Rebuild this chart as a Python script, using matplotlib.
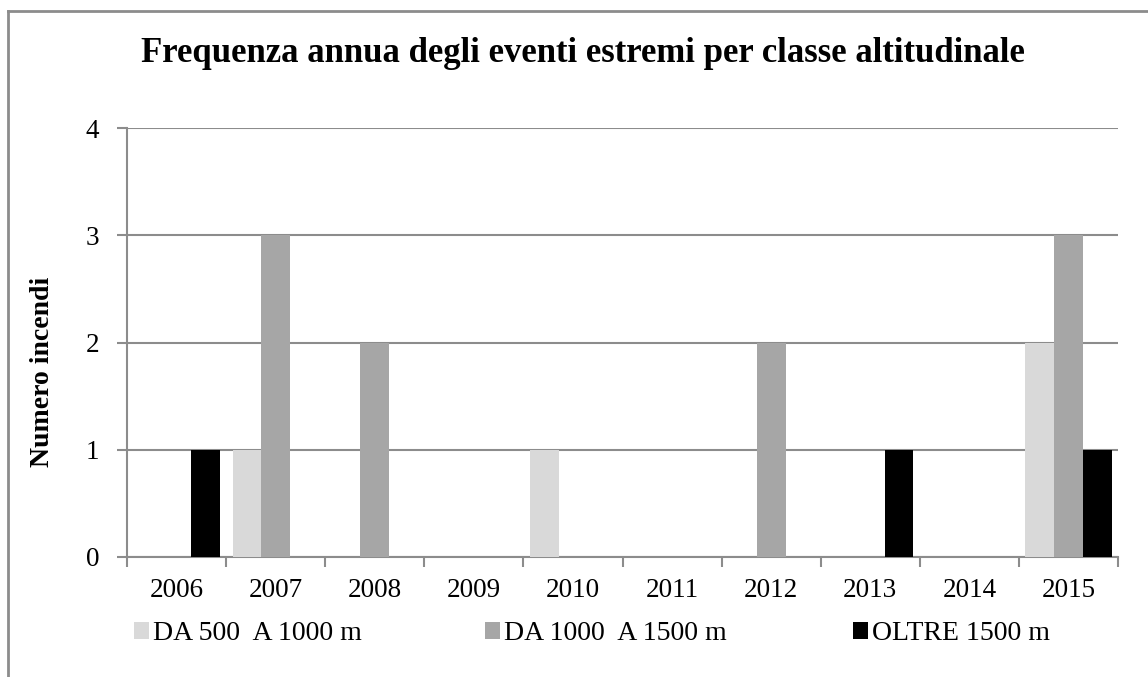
import numpy as np
import matplotlib.pyplot as plt
from matplotlib.patches import Patch
from matplotlib.lines import Line2D

years = ['2006', '2007', '2008', '2009', '2010', '2011', '2012', '2013', '2014', '2015']
da500 = [0, 1, 0, 0, 1, 0, 0, 0, 0, 2]
da1000 = [0, 3, 2, 0, 0, 0, 2, 0, 0, 3]
oltre1500 = [1, 0, 0, 0, 0, 0, 0, 1, 0, 1]
labels = ['DA 500  A 1000 m', 'DA 1000  A 1500 m', 'OLTRE 1500 m']
colors = ['#d9d9d9', '#a6a6a6', '#000000']

plt.rcParams['font.family'] = ['Liberation Serif', 'DejaVu Serif']
grid_col = '#8c8c8c'

W, H = 1148, 677
fig = plt.figure(figsize=(W / 100, H / 100), dpi=100)
ax = fig.add_axes([127/W, 1 - 557/H, (1118-127)/W, (557-128)/H])

x = np.arange(len(years))
w = 0.29
for i, (vals, c) in enumerate(zip([da500, da1000, oltre1500], colors)):
    ax.bar(x + (i - 1) * w, vals, w, color=c, zorder=3, linewidth=0)

ax.set_xlim(-0.5, len(years) - 0.5)
ax.set_ylim(0, 4)
ax.set_yticks(range(5))
ax.set_xticks(x)
ax.set_xticklabels(years)
ax.set_xticks(np.arange(-0.5, len(years)), minor=True)
ax.tick_params(axis='x', which='major', length=0, labelsize=19.5, pad=15)
ax.tick_params(axis='x', which='minor', length=7, width=1.5, color=grid_col)
ax.tick_params(axis='y', length=7, width=1.5, color=grid_col, labelsize=19.5, pad=13)
ax.yaxis.grid(True, color=grid_col, linewidth=1.5, zorder=0)
for s in ['top', 'right']:
    ax.spines[s].set_visible(False)
for s in ['left', 'bottom']:
    ax.spines[s].set_color(grid_col)
    ax.spines[s].set_linewidth(1.5)

# y label sits a bit below the axes centre in the original
fig.text(43/W, 1 - 372/H, 'Numero incendi', rotation=90, ha='center', va='center',
         fontsize=20, fontweight='bold')
fig.text(583/W, 1 - 53/H, 'Frequenza annua degli eventi estremi per classe altitudinale',
         ha='center', va='center', fontsize=25, fontweight='bold')

# legend entries placed one by one, as in the original
leg_x = [134, 485, 853]
for lx, lab, c in zip(leg_x, labels, colors):
    lg = fig.legend([Patch(facecolor=c, edgecolor='none')], [lab], loc='center left',
                    bbox_to_anchor=(lx / W, 1 - 634/H), frameon=False, fontsize=20,
                    borderpad=0, borderaxespad=0, handlelength=0.55, handleheight=0.55,
                    handletextpad=0.12)

# outer frame of the chart (cropped at right and bottom)
fig.add_artist(Line2D([8/W, 8/W], [0, 1 - 11/H], transform=fig.transFigure,
                      color=grid_col, linewidth=2))
fig.add_artist(Line2D([8/W, 1], [1 - 11/H, 1 - 11/H], transform=fig.transFigure,
                      color=grid_col, linewidth=2))

fig.savefig('out.png', dpi=100)
